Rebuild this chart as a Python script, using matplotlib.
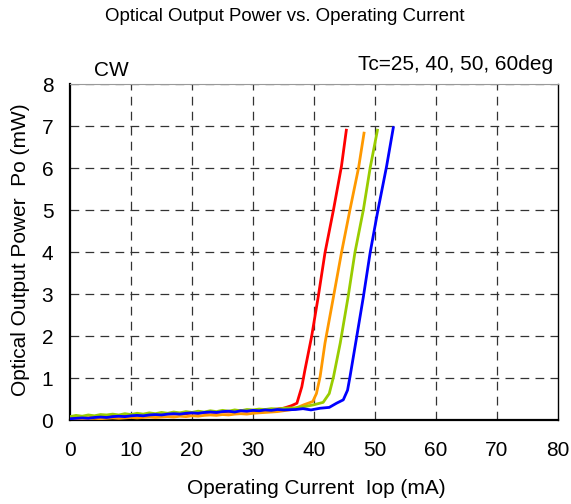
import matplotlib
matplotlib.use("Agg")
import matplotlib.pyplot as plt

plt.rcParams['font.family'] = ['Liberation Sans', 'DejaVu Sans']

# baseline (below threshold), shared currents in mA
base_current = list(range(0, 36))

# Tc = 25 deg (red)
red_base = [0.04, 0.05, 0.06, 0.05, 0.07, 0.08, 0.07, 0.09, 0.10, 0.09, 0.11, 0.12,
            0.11, 0.13, 0.12, 0.14, 0.15, 0.14, 0.16, 0.15, 0.17, 0.16, 0.18, 0.19,
            0.18, 0.20, 0.19, 0.21, 0.22, 0.21, 0.23, 0.22, 0.24, 0.25, 0.26, 0.28]
red_cur = [36.3, 37.2, 38.0, 38.5, 39.6, 40.7, 41.8, 43.2, 44.5, 45.3]
red_pow = [0.34, 0.40, 0.79, 1.18, 1.98, 2.94, 3.98, 5.01, 6.04, 6.90]

# Tc = 40 deg (orange)
orange_base = [0.02, 0.03, 0.02, 0.03, 0.04, 0.03, 0.04, 0.05, 0.04, 0.05, 0.06, 0.05,
               0.06, 0.07, 0.06, 0.07, 0.08, 0.07, 0.09, 0.08, 0.10, 0.09, 0.11, 0.12,
               0.11, 0.13, 0.12, 0.14, 0.15, 0.14, 0.16, 0.17, 0.18, 0.19, 0.20, 0.22]
orange_cur = [36.5, 38.3, 39.8, 40.4, 41.0, 41.8, 43.2, 44.5, 45.9, 47.3, 48.2]
orange_pow = [0.25, 0.36, 0.44, 0.63, 1.03, 1.83, 2.94, 3.98, 5.01, 6.00, 6.83]

# Tc = 50 deg (green)
green_base = [0.08, 0.11, 0.09, 0.12, 0.10, 0.13, 0.12, 0.14, 0.12, 0.15, 0.13, 0.16,
              0.14, 0.17, 0.15, 0.18, 0.16, 0.19, 0.17, 0.20, 0.18, 0.21, 0.19, 0.22,
              0.20, 0.23, 0.21, 0.24, 0.22, 0.25, 0.24, 0.26, 0.25, 0.27, 0.26, 0.28]
green_cur = [37.0, 38.5, 39.9, 41.5, 42.5, 43.2, 44.3, 45.6, 46.7, 48.1, 49.2, 50.4]
green_pow = [0.29, 0.32, 0.36, 0.42, 0.63, 1.03, 1.83, 2.94, 3.98, 5.01, 6.00, 6.90]

# Tc = 60 deg (blue)
blue_base = [0.03, 0.04, 0.05, 0.04, 0.06, 0.07, 0.06, 0.08, 0.09, 0.08, 0.10, 0.11,
             0.10, 0.12, 0.13, 0.12, 0.14, 0.15, 0.14, 0.16, 0.17, 0.16, 0.18, 0.19,
             0.18, 0.20, 0.21, 0.19, 0.22, 0.21, 0.23, 0.22, 0.24, 0.23, 0.25, 0.24]
blue_cur = [37.0, 38.2, 39.5, 41.0, 42.5, 43.7, 44.8, 45.5, 45.9, 47.0, 48.1, 49.2, 50.5, 51.9, 53.0]
blue_pow = [0.25, 0.27, 0.24, 0.28, 0.30, 0.40, 0.48, 0.71, 1.03, 1.98, 2.94, 3.98, 5.01, 6.04, 6.96]

series = [
    (red_base, red_cur, red_pow, '#ff0000'),
    (orange_base, orange_cur, orange_pow, '#ff9900'),
    (green_base, green_cur, green_pow, '#99cc00'),
    (blue_base, blue_cur, blue_pow, '#0000ff'),
]

x_ticks = [0, 10, 20, 30, 40, 50, 60, 70, 80]
y_ticks = [0, 1, 2, 3, 4, 5, 6, 7, 8]

W, H = 571, 504
fig = plt.figure(figsize=(W / 100, H / 100), dpi=100)
ax = fig.add_axes([70 / W, 84 / H, 488 / W, 336 / H])

for base, cur, pw, col in series:
    ax.plot(base_current + cur, base + pw, color=col, lw=2.0, zorder=3)

ax.set_xlim(0, 80)
ax.set_ylim(0, 8)
ax.set_xticks(x_ticks)
ax.set_yticks(y_ticks)
ax.tick_params(length=0, labelsize=15)
ax.tick_params(axis='x', pad=15)
ax.tick_params(axis='y', pad=12)

# dashed grid
for x in x_ticks[1:-1]:
    ax.axvline(x, color='#333333', lw=0.9, ls=(0, (7, 5)), zorder=1)
for y in y_ticks[1:]:
    ax.axhline(y, color='#333333', lw=0.9, ls=(0, (7, 5)), zorder=1)

ax.spines['left'].set_linewidth(1.6)
ax.spines['bottom'].set_linewidth(1.6)
ax.spines['right'].set_linewidth(1.0)
ax.spines['top'].set_linewidth(0.8)
ax.spines['top'].set_color('#999999')

fs = 15
fig.text(316.5 / W, 1 - 494 / H, 'Operating Current  Iop (mA)',
         ha='center', va='baseline', fontsize=fs)
fig.text(21 / W, 1 - 250 / H, 'Optical Output Power  Po (mW)',
         ha='center', va='center', rotation=90, fontsize=fs)
fig.text(285 / W, 1 - 21 / H, 'Optical Output Power vs. Operating Current',
         ha='center', va='baseline', fontsize=13.4)
fig.text(94 / W, 1 - 76 / H, 'CW', ha='left', va='baseline', fontsize=fs)
fig.text(553 / W, 1 - 70 / H, 'Tc=25, 40, 50, 60deg', ha='right', va='baseline', fontsize=fs)

fig.savefig('out.png', dpi=100)
